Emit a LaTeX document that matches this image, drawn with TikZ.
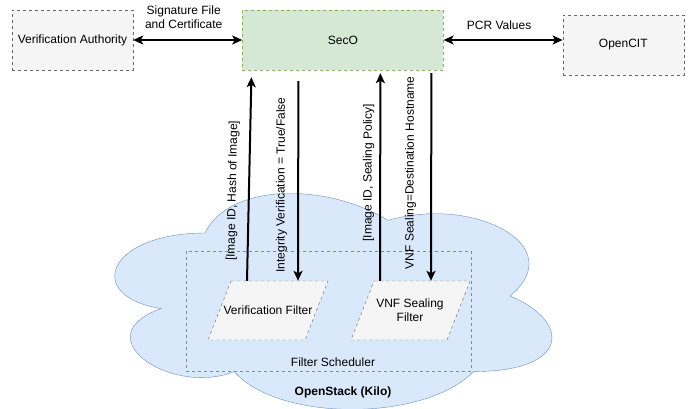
\documentclass[tikz,border=0pt]{standalone}
\usepackage{fontspec}
\setmainfont{Liberation Sans}
\usetikzlibrary{positioning,arrows.meta}

\definecolor{boxgray}{HTML}{F5F5F5}
\definecolor{linegray}{HTML}{666666}
\definecolor{secogreen}{HTML}{D5E8D4}
\definecolor{secoline}{HTML}{82B366}
\definecolor{cloudblue}{HTML}{DAE8FC}
\definecolor{cloudline}{HTML}{6C8EBF}

\begin{document}
\begin{tikzpicture}[x=1pt, y=-1pt, node distance=109pt,
  every node/.style={font=\fontsize{12}{14}\selectfont, inner sep=0pt},
  dashes/.style={dash pattern=on 3pt off 3pt},
  graybox/.style={draw=linegray, fill=boxgray, dashes, minimum width=121pt, minimum height=60pt},
  filtershape/.style={draw=linegray, fill=boxgray, dashes},
  filterbox/.style={minimum width=95pt, minimum height=59pt, align=center},
  msg/.style={-{Stealth[length=10pt, width=9pt, inset=2.5pt]}, line width=2pt},
  msgback/.style={{Stealth[length=10pt, width=9pt, inset=2.5pt]}-, line width=2pt},
  both/.style={{Stealth[length=10pt, width=9pt, inset=2.5pt]}-{Stealth[length=10pt, width=9pt, inset=2.5pt]}, line width=2pt}]
  \useasboundingbox (0,0) rectangle (690,408);

  % cloud behind everything
  \begin{scope}[shift={(83,170)}, x=488pt, y=-252pt]
    \draw[draw=cloudline, fill=cloudblue]
      (0.25,0.25) .. controls (0.05,0.25) and (0,0.5) .. (0.16,0.55)
      .. controls (0,0.66) and (0.18,0.9) .. (0.31,0.8)
      .. controls (0.4,1) and (0.7,1) .. (0.8,0.8)
      .. controls (1,0.8) and (1,0.6) .. (0.875,0.5)
      .. controls (1,0.3) and (0.8,0.1) .. (0.625,0.2)
      .. controls (0.5,0.05) and (0.3,0.05) .. (0.25,0.25) -- cycle;
  \end{scope}
  \node[font=\fontsize{12}{14}\selectfont\bfseries] (openstack) at (343,392) {OpenStack (Kilo)};

  % scheduler
  \draw[draw=cloudline, dashes] (186,251) rectangle (471,371);
  \node (sched) at (333,362) {Filter Scheduler};
  \draw[filtershape] (231,281) -- (328,281) -- (305,340) -- (208,340) -- cycle;
  \draw[filtershape] (374,281) -- (470,281) -- (447,340) -- (351,340) -- cycle;
  \node[filterbox] (vfilt) at (268,310.5) {Verification Filter};
  \node[filterbox] (vnf) at (410,310.5) {VNF Sealing\\Filter};

  % top row
  \node[graybox] (va) at (72.5,40) {Verification Authority};
  \node[draw=secoline, fill=secogreen, dashes, minimum width=201pt, minimum height=60pt, right=109pt of va] (seco) {SecO};
  \node[graybox, right=119pt of seco, yshift=-5pt] (opencit) {OpenCIT};

  \draw[both] (va) -- node[above=10pt, xshift=-4pt, align=center]{Signature File\\and Certificate} (seco);
  \draw[both] (seco.east) -- node[above=9pt, xshift=-4pt]{PCR Values} ([yshift=5pt]opencit.west);

  % messages between filters and SecO
  \draw[msg] ([xshift=-21pt]vfilt.north) -- node[pos=0.44, sloped, above=9.5pt]{[Image ID, Hash of Image]} ([xshift=-91.5pt, yshift=-7pt]seco.south);
  \draw[msgback] ([xshift=30pt]vfilt.north) -- node[pos=0.48, sloped, above=10pt]{Integrity Verification = True/False} ([xshift=-44.5pt, yshift=-11pt]seco.south);
  \draw[msg] ([xshift=-30pt]vnf.north) -- node[pos=0.52, sloped, above=5pt]{[Image ID, Sealing Policy]} ([xshift=37.5pt, yshift=-3pt]seco.south);
  \draw[msgback] ([xshift=21pt]vnf.north) -- node[pos=0.52, sloped, above=14pt]{VNF Sealing=Destination Hostname} ([xshift=88.5pt, yshift=-3pt]seco.south);
\end{tikzpicture}
\end{document}
